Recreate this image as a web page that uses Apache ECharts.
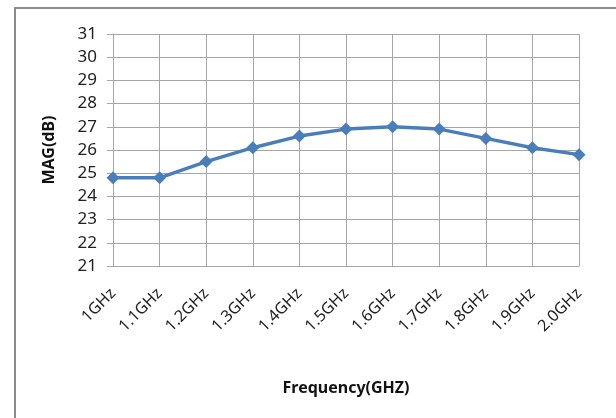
<!DOCTYPE html>
<html>
<head>
<meta charset="utf-8">
<script src="https://cdn.jsdelivr.net/npm/echarts@6/dist/echarts.min.js"></script>
<style>
html,body{margin:0;padding:0;background:#fff;}
#chart{width:616px;height:418px;}
</style>
</head>
<body>
<div id="chart"></div>
<script>
// frequency points and measured MAG
var freqLabels = ['1GHz','1.1GHz','1.2GHz','1.3GHz','1.4GHz','1.5GHz','1.6GHz','1.7GHz','1.8GHz','1.9GHz','2.0GHz'];
var magValues = [24.8, 24.8, 25.5, 26.1, 26.6, 26.9, 27.0, 26.9, 26.5, 26.1, 25.8];
var yMin = 21, yMax = 31, yStep = 1;

var chart = echarts.init(document.getElementById('chart'));
var gridColor = '#a6a6a6';
var fontFam = '"Noto Sans", sans-serif';

var option = {
	backgroundColor:'#fff',
	animation:false,
	graphic:[{
		type:'rect',
		shape:{x:15, y:8, width:640, height:440},
		style:{fill:'none', stroke:'#8c8c8c', lineWidth:2}
	}],
	grid:{left:113, right:37, top:34, bottom:152},
	xAxis:{
		type:'category',
		data:freqLabels,
		boundaryGap:false,
		name:'Frequency(GHZ)',
		nameLocation:'middle',
		nameGap:114,
		nameTextStyle:{fontFamily:fontFam, fontSize:16, fontWeight:'bold', color:'#111'},
		axisLine:{lineStyle:{color:gridColor, width:1}},
		axisTick:{show:false},
		axisLabel:{rotate:45, margin:25, fontFamily:fontFam, fontSize:16, color:'#222', interval:0},
		splitLine:{show:true, lineStyle:{color:gridColor, width:1}}
	},
	yAxis:{
		type:'value',
		min:yMin,
		max:yMax,
		interval:yStep,
		name:'MAG(dB)',
		nameLocation:'middle',
		nameGap:56,
		nameRotate:90,
		nameTextStyle:{fontFamily:fontFam, fontSize:16, fontWeight:'bold', color:'#111'},
		axisLine:{show:true, lineStyle:{color:gridColor, width:1}},
		axisTick:{show:true, length:6, lineStyle:{color:gridColor}},
		axisLabel:{margin:16, fontFamily:fontFam, fontSize:17, color:'#222'},
		splitLine:{show:true, lineStyle:{color:gridColor, width:1}}
	},
	series:[{
		type:'line',
		data:magValues,
		symbol:'diamond',
		symbolSize:13,
		lineStyle:{color:'#4a7ebb', width:3.5},
		itemStyle:{color:'#4a7ebb'}
	}]
};
chart.setOption(option);
</script>
</body>
</html>
